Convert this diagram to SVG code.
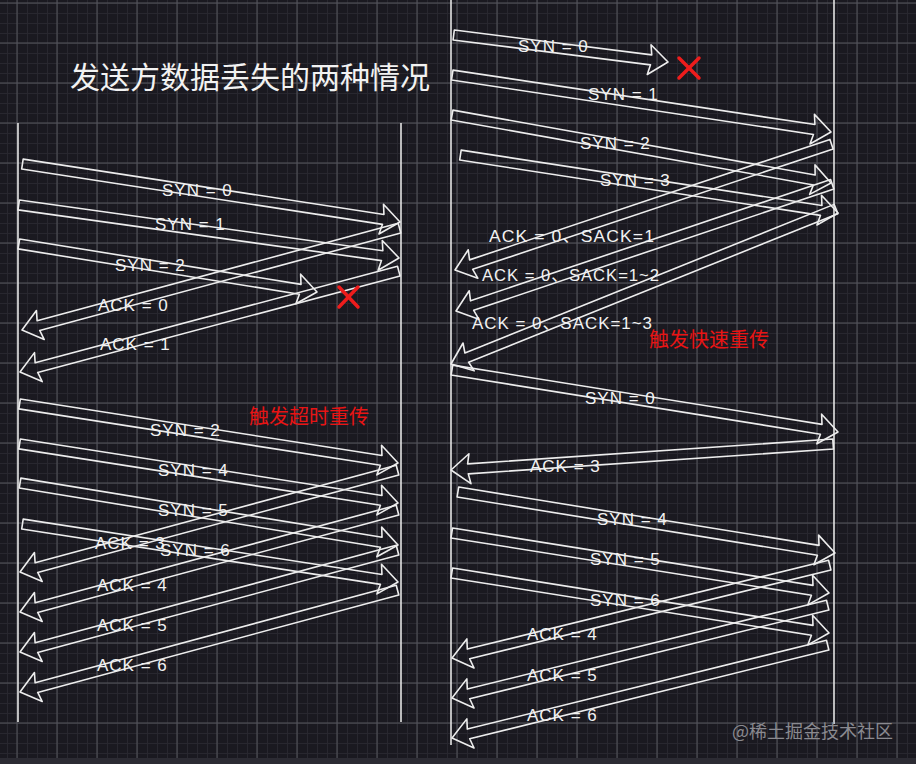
<svg xmlns="http://www.w3.org/2000/svg" width="916" height="764" viewBox="0 0 916 764">
<style>
.life{stroke:#e4e4e4;stroke-width:1.6;fill:none}
.arr{stroke:#ededed;stroke-width:1.6;fill:none;stroke-linejoin:round}
.lbl{font-family:"Liberation Sans","Noto Sans CJK SC",sans-serif;font-size:17px;fill:#f2f2f2;letter-spacing:1px}
.red{font-family:"Noto Sans CJK SC","Liberation Sans",sans-serif;font-size:20px;fill:#e81414}
.x{stroke:#ee1c1c;stroke-width:3.5;stroke-linecap:round}
</style>
<defs>
<pattern id="minor" width="10" height="10" x="7" y="3" patternUnits="userSpaceOnUse">
<path d="M0 0.5H10M0.5 0V10" stroke="#28272f" stroke-width="1" fill="none"/>
</pattern>
<pattern id="major" width="40" height="40" x="16.5" y="2.5" patternUnits="userSpaceOnUse">
<path d="M0 0.5H40M0.5 0V40" stroke="#56565e" stroke-width="1" fill="none"/>
</pattern>
</defs>
<rect width="916" height="764" fill="#1a1920"/>
<rect width="916" height="764" fill="url(#minor)"/>
<rect width="916" height="764" fill="url(#major)"/>
<rect x="0" y="758" width="916" height="6" fill="#2c2b33"/>

<text x="70" y="88" font-family="Noto Sans CJK SC,Liberation Sans,sans-serif" font-size="30" fill="#f2f2f2">发送方数据丢失的两种情况</text>

<g id="lifelines">
<line class="life" x1="18" y1="123" x2="18" y2="722"/>
<line class="life" x1="401" y1="123" x2="401" y2="722"/>
<line class="life" x1="451" y1="0" x2="451" y2="745"/>
<line class="life" x1="834" y1="0" x2="834" y2="724"/>
</g>

<g id="connectors">
<path class="arr" transform="translate(400 222) rotate(8.72)" d="M0 0L-19 -15L-17 -5L-382 -5L-382 5L-17 5L-19 15Z"/>
<path class="arr" transform="translate(399 258) rotate(7.94)" d="M0 0L-19 -15L-17 -5L-384 -5L-384 5L-17 5L-19 15Z"/>
<path class="arr" transform="translate(317 292) rotate(9.15)" d="M0 0L-19 -15L-17 -5L-302 -5L-302 5L-17 5L-19 15Z"/>
<path class="arr" transform="translate(22 330) rotate(164.9)" d="M0 0L-19 -15L-17 -5L-391 -5L-391 5L-17 5L-19 15Z"/>
<path class="arr" transform="translate(20 372) rotate(165.08)" d="M0 0L-19 -15L-17 -5L-392 -5L-392 5L-17 5L-19 15Z"/>
<path class="arr" transform="translate(398 463) rotate(8.87)" d="M0 0L-19 -15L-17 -5L-383 -5L-383 5L-17 5L-19 15Z"/>
<path class="arr" transform="translate(398 503) rotate(8.87)" d="M0 0L-19 -15L-17 -5L-383 -5L-383 5L-17 5L-19 15Z"/>
<path class="arr" transform="translate(398 545) rotate(9.31)" d="M0 0L-19 -15L-17 -5L-383 -5L-383 5L-17 5L-19 15Z"/>
<path class="arr" transform="translate(398 582) rotate(8.77)" d="M0 0L-19 -15L-17 -5L-380 -5L-380 5L-17 5L-19 15Z"/>
<path class="arr" transform="translate(20 572) rotate(164.9)" d="M0 0L-19 -15L-17 -5L-391 -5L-391 5L-17 5L-19 15Z"/>
<path class="arr" transform="translate(20 612) rotate(164.9)" d="M0 0L-19 -15L-17 -5L-391 -5L-391 5L-17 5L-19 15Z"/>
<path class="arr" transform="translate(20 652) rotate(164.9)" d="M0 0L-19 -15L-17 -5L-391 -5L-391 5L-17 5L-19 15Z"/>
<path class="arr" transform="translate(20 692) rotate(164.9)" d="M0 0L-19 -15L-17 -5L-391 -5L-391 5L-17 5L-19 15Z"/>
<path class="arr" transform="translate(668 62) rotate(7.19)" d="M0 0L-19 -15L-17 -5L-216 -5L-216 5L-17 5L-19 15Z"/>
<path class="arr" transform="translate(831 132) rotate(8.55)" d="M0 0L-19 -15L-17 -5L-383 -5L-383 5L-17 5L-19 15Z"/>
<path class="arr" transform="translate(831 183) rotate(10.17)" d="M0 0L-19 -15L-17 -5L-385 -5L-385 5L-17 5L-19 15Z"/>
<path class="arr" transform="translate(838 213) rotate(8.72)" d="M0 0L-19 -15L-17 -5L-382 -5L-382 5L-17 5L-19 15Z"/>
<path class="arr" transform="translate(455 270) rotate(161.52)" d="M0 0L-19 -15L-17 -5L-397 -5L-397 5L-17 5L-19 15Z"/>
<path class="arr" transform="translate(456 311) rotate(161.38)" d="M0 0L-19 -15L-17 -5L-397 -5L-397 5L-17 5L-19 15Z"/>
<path class="arr" transform="translate(451 364) rotate(158.07)" d="M0 0L-19 -15L-17 -5L-415 -5L-415 5L-17 5L-19 15Z"/>
<path class="arr" transform="translate(838 432) rotate(9.12)" d="M0 0L-19 -15L-17 -5L-391 -5L-391 5L-17 5L-19 15Z"/>
<path class="arr" transform="translate(451 470) rotate(176.11)" d="M0 0L-19 -15L-17 -5L-383 -5L-383 5L-17 5L-19 15Z"/>
<path class="arr" transform="translate(835 553) rotate(9.19)" d="M0 0L-19 -15L-17 -5L-382 -5L-382 5L-17 5L-19 15Z"/>
<path class="arr" transform="translate(829 593) rotate(9.04)" d="M0 0L-19 -15L-17 -5L-382 -5L-382 5L-17 5L-19 15Z"/>
<path class="arr" transform="translate(829 633) rotate(9.04)" d="M0 0L-19 -15L-17 -5L-382 -5L-382 5L-17 5L-19 15Z"/>
<path class="arr" transform="translate(452 658) rotate(166.18)" d="M0 0L-19 -15L-17 -5L-389 -5L-389 5L-17 5L-19 15Z"/>
<path class="arr" transform="translate(452 698) rotate(166.11)" d="M0 0L-19 -15L-17 -5L-387 -5L-387 5L-17 5L-19 15Z"/>
<path class="arr" transform="translate(452 738) rotate(166.11)" d="M0 0L-19 -15L-17 -5L-387 -5L-387 5L-17 5L-19 15Z"/>
</g>

<g id="labels-left">
<text class="lbl" x="162" y="196">SYN = 0</text>
<text class="lbl" x="155" y="230">SYN = 1</text>
<text class="lbl" x="115" y="271">SYN = 2</text>
<text class="lbl" x="98" y="311">ACK = 0</text>
<text class="lbl" x="100" y="350">ACK = 1</text>
<text class="lbl" x="150" y="436">SYN = 2</text>
<text class="lbl" x="158" y="476">SYN = 4</text>
<text class="lbl" x="158" y="516">SYN = 5</text>
<text class="lbl" x="95" y="549">ACK = 3</text>
<text class="lbl" x="160" y="556">SYN = 6</text>
<text class="lbl" x="97" y="591">ACK = 4</text>
<text class="lbl" x="97" y="631">ACK = 5</text>
<text class="lbl" x="97" y="671">ACK = 6</text>
</g>

<g id="labels-right">
<text class="lbl" x="518" y="52">SYN = 0</text>
<text class="lbl" x="588" y="100">SYN = 1</text>
<text class="lbl" x="580" y="149">SYN = 2</text>
<text class="lbl" x="600" y="186">SYN = 3</text>
<text class="lbl" x="489" y="242" textLength="166" lengthAdjust="spacingAndGlyphs">ACK = 0、SACK=1</text>
<text class="lbl" x="482" y="281" textLength="178" lengthAdjust="spacingAndGlyphs">ACK = 0、SACK=1~2</text>
<text class="lbl" x="472" y="329" textLength="181" lengthAdjust="spacingAndGlyphs">ACK = 0、SACK=1~3</text>
<text class="lbl" x="585" y="404">SYN = 0</text>
<text class="lbl" x="530" y="472">ACK = 3</text>
<text class="lbl" x="597" y="525">SYN = 4</text>
<text class="lbl" x="590" y="565">SYN = 5</text>
<text class="lbl" x="590" y="606">SYN = 6</text>
<text class="lbl" x="527" y="640">ACK = 4</text>
<text class="lbl" x="527" y="681">ACK = 5</text>
<text class="lbl" x="527" y="721">ACK = 6</text>
</g>

<g id="marks">
<line class="x" x1="339" y1="287" x2="358" y2="307"/>
<line class="x" x1="358" y1="287" x2="339" y2="307"/>
<line class="x" x1="679" y1="58" x2="699" y2="78"/>
<line class="x" x1="699" y1="58" x2="679" y2="78"/>
<text class="red" x="249" y="424">触发超时重传</text>
<text class="red" x="649" y="347">触发快速重传</text>
</g>

<text x="732" y="738" font-family="Noto Sans CJK SC,Liberation Sans,sans-serif" font-size="18" fill="#8a8a90">@稀土掘金技术社区</text>
</svg>
